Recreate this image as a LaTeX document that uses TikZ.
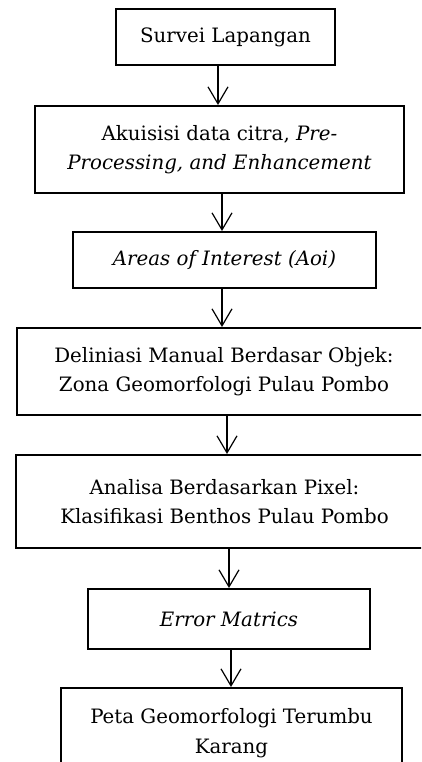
\documentclass[tikz,border=0pt]{standalone}
\usepackage{fontspec}
\setmainfont{DejaVu Serif}
\usetikzlibrary{arrows.meta,calc}
\begin{document}
\begin{tikzpicture}[x=1pt,y=-1pt,
  box/.style={draw=black, line width=2pt, rectangle, align=center, inner sep=0pt,
    font=\fontsize{19.8}{29.5}\selectfont},
  arr/.style={draw=black, line width=1.2pt, -{Straight Barb[length=17pt,width=20pt]}}]
\useasboundingbox (0,0) rectangle (421,762);
\clip (0,0) rectangle (421,762);
\node[box, minimum width=219pt, minimum height=56pt] (b1) at (225.5,37) {Survei Lapangan};
\node[box, minimum width=369pt, minimum height=87pt] (b2) at (219.5,149.5) {Akuisisi data citra, \textit{Pre-}\\\textit{Processing, and Enhancement}};
\node[box, minimum width=303pt, minimum height=56pt] (b3) at (224.5,260) {\textit{Areas of Interest (Aoi)}};
\node[box, minimum width=414pt, minimum height=87pt] (b4) at (224,371.5) {Deliniasi Manual Berdasar Objek:\\Zona Geomorfologi Pulau Pombo};
\node[box, minimum width=417pt, minimum height=93pt] (b5) at (224.5,501.5) {Analisa Berdasarkan Pixel:\\Klasifikasi Benthos Pulau Pombo};
\node[box, minimum width=282pt, minimum height=60pt] (b6) at (229,619) {\textit{Error Matrics}};
\node[box, minimum width=341pt, minimum height=90pt] (b7) at (231.5,733) {Peta Geomorfologi Terumbu\\Karang};
\coordinate (a1) at ([xshift=-7.5pt]b1.south);
\coordinate (a2) at ([xshift=2.5pt]b2.south);
\coordinate (a3) at ([xshift=-2.5pt]b3.south);
\coordinate (a4) at ([xshift=3pt]b4.south);
\coordinate (a5) at ([xshift=4.5pt]b5.south);
\coordinate (a6) at ([xshift=2pt]b6.south);
\draw[arr] (a1) -- (a1 |- b2.north);
\draw[arr] (a2) -- (a2 |- b3.north);
\draw[arr] (a3) -- (a3 |- b4.north);
\draw[arr] (a4) -- (a4 |- b5.north);
\draw[arr] (a5) -- (a5 |- b6.north);
\draw[arr] (a6) -- (a6 |- b7.north);
\end{tikzpicture}
\end{document}
